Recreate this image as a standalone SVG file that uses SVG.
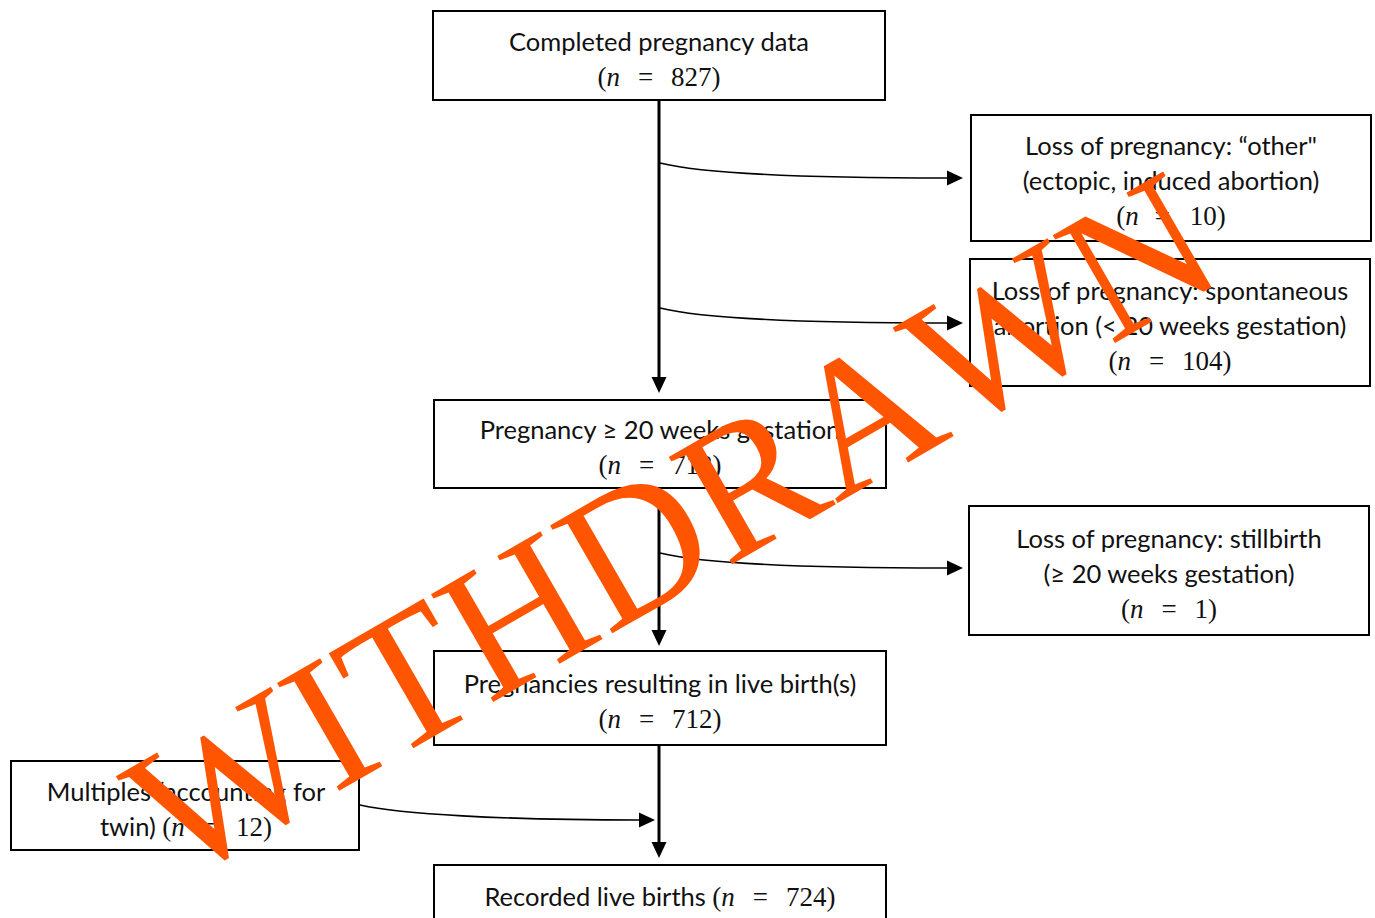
<svg xmlns="http://www.w3.org/2000/svg" width="1375" height="918" viewBox="0 0 1375 918">
<defs>
<style>
.box{fill:#fff;stroke:#000;stroke-width:2}
.t{font-family:Lato,"Liberation Sans",sans-serif;font-size:25.5px;fill:#111;text-anchor:middle}
.m{font-family:"Liberation Serif",serif;font-size:27px;fill:#111}
.i{font-style:italic}
.v{fill:none;stroke:#000;stroke-width:3}
.c{fill:none;stroke:#000;stroke-width:1.6}
.wm{font-family:"Liberation Serif","Times New Roman",serif;font-size:190px;fill:#FF5500;font-kerning:none}
</style>
<marker id="ah" markerUnits="userSpaceOnUse" markerWidth="16" markerHeight="15" refX="0" refY="7.5" orient="auto" overflow="visible">
<path d="M0,0 L16,7.5 L0,15 z" fill="#000"/>
</marker>
</defs>
<rect width="1375" height="918" fill="#fff"/>
<g id="connectors">
<path class="v" d="M659,100 V377" marker-end="url(#ah)"/>
<path class="c" d="M660,163 C700,173 800,178 947,178" marker-end="url(#ah)"/>
<path class="c" d="M660,308 C700,318 800,323 947,323" marker-end="url(#ah)"/>
<path class="v" d="M659,488 V630" marker-end="url(#ah)"/>
<path class="c" d="M660,553 C700,563 800,568 947,568" marker-end="url(#ah)"/>
<path class="v" d="M659,745 V842" marker-end="url(#ah)"/>
<path class="c" d="M360,805 C400,814 500,820 639,820" marker-end="url(#ah)"/>
</g>
<g id="n1">
<rect class="box" x="433" y="11" width="452" height="89"/>
<text class="t" x="659" y="51">Completed pregnancy data</text>
<text class="m" x="659" y="86" text-anchor="middle">(<tspan class="i">n</tspan><tspan dx="18">=</tspan><tspan dx="18">827)</tspan></text>
</g>
<g id="n2">
<rect class="box" x="971" y="115" width="400" height="126"/>
<text class="t" x="1171" y="155">Loss of pregnancy: “other"</text>
<text class="t" x="1171" y="190">(ectopic, induced abortion)</text>
<text class="m" x="1171" y="225" text-anchor="middle">(<tspan class="i">n</tspan><tspan dx="16">=</tspan><tspan dx="20">10)</tspan></text>
</g>
<g id="n3">
<rect class="box" x="970" y="259" width="400" height="127"/>
<text class="t" x="1170" y="300">Loss of pregnancy: spontaneous</text>
<text class="t" x="1170" y="335">abortion (&lt; 20 weeks gestation)</text>
<text class="m" x="1170" y="370" text-anchor="middle">(<tspan class="i">n</tspan><tspan dx="18">=</tspan><tspan dx="18">104)</tspan></text>
</g>
<g id="n4">
<rect class="box" x="434" y="400" width="452" height="88"/>
<text class="t" x="660" y="439">Pregnancy ≥ 20 weeks gestation</text>
<text class="m" x="660" y="474" text-anchor="middle">(<tspan class="i">n</tspan><tspan dx="18">=</tspan><tspan dx="18">713)</tspan></text>
</g>
<g id="n5">
<rect class="box" x="969" y="506" width="400" height="129"/>
<text class="t" x="1169" y="548">Loss of pregnancy: stillbirth</text>
<text class="t" x="1169" y="583">(≥ 20 weeks gestation)</text>
<text class="m" x="1169" y="618" text-anchor="middle">(<tspan class="i">n</tspan><tspan dx="18">=</tspan><tspan dx="18">1)</tspan></text>
</g>
<g id="n6">
<rect class="box" x="434" y="651" width="452" height="94"/>
<text class="t" x="660" y="693">Pregnancies resulting in live birth(s)</text>
<text class="m" x="660" y="728" text-anchor="middle">(<tspan class="i">n</tspan><tspan dx="18">=</tspan><tspan dx="18">712)</tspan></text>
</g>
<g id="n7">
<rect class="box" x="11" y="761" width="348" height="89"/>
<text class="t" x="186" y="801">Multiples (accounting for</text>
<text class="t" x="186" y="836">twin) <tspan class="m">(<tspan class="i">n</tspan><tspan dx="18">=</tspan><tspan dx="18">12)</tspan></tspan></text>
</g>
<g id="n8">
<rect class="box" x="434" y="865" width="452" height="70"/>
<text class="t" x="660" y="906">Recorded live births <tspan class="m">(<tspan class="i">n</tspan><tspan dx="18">=</tspan><tspan dx="18">724)</tspan></tspan></text>
</g>
<g id="watermark">
<text class="wm" transform="translate(178,884) rotate(-30)">WITHDRAWN</text>
</g>
</svg>
